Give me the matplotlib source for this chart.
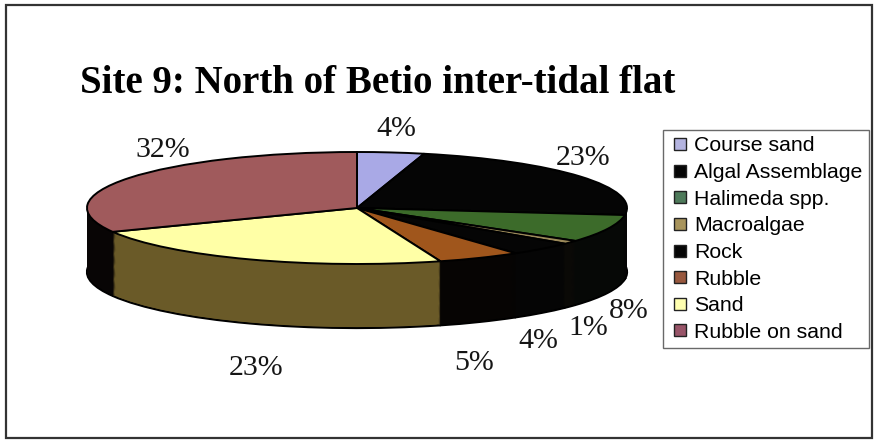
import matplotlib
matplotlib.use("Agg")
import matplotlib.pyplot as plt
from matplotlib.patches import Rectangle
from matplotlib.lines import Line2D

# ---- data ----
categories = ["Course sand", "Algal Assemblage", "Halimeda spp.", "Macroalgae",
              "Rock", "Rubble", "Sand", "Rubble on sand"]
values = [4, 23, 8, 1, 4, 5, 23, 32]
top_colors = ["#A9A9E6", "#050505", "#3C6B2A", "#9C8A5A",
              "#050505", "#A0561C", "#FFFFA6", "#A05A5C"]
side_colors = ["#10101C", "#050505", "#060806", "#0A0906",
               "#050505", "#060403", "#6A5A28", "#080505"]
legend_colors = ["#B4B4E0", "#050505", "#4E7A5A", "#A8945C",
                 "#050505", "#98583E", "#FFFFB0", "#985468"]
title = "Site 9: North of Betio inter-tidal flat"

W, H = 875, 448
fig = plt.figure(figsize=(W / 100, H / 100), dpi=100)
fig.patch.set_facecolor("white")

def fx(px):
    return px / W

def fy(py):
    return 1 - py / H

# pie geometry (pixels)
cx, cy, a, b, depth_px = 357, 208, 270, 56, 64
d = depth_px / b
mx, my = 1.1, 0.1
left = cx - mx * a
top = cy - mx * b
width = 2 * mx * a
height = (2 * mx + d) * b
ax = fig.add_axes([fx(left), fy(top + height), width / W, height / H])

n_layers = 70
for k in range(n_layers):
    off = -d + d * k / (n_layers - 1)
    ax.pie(values, colors=side_colors, radius=1, center=(0, off), startangle=90,
           counterclock=False, normalize=True,
           wedgeprops=dict(linewidth=1.6 if k == 0 else 0,
                           edgecolor="black", antialiased=True))
ax.pie(values, colors=top_colors, radius=1, center=(0, 0), startangle=90,
       counterclock=False, normalize=True,
       wedgeprops=dict(linewidth=1.4, edgecolor="black"))
ax.set_aspect("auto")
ax.set_xlim(-mx, mx)
ax.set_ylim(-1 - d - my, mx)
ax.axis("off")

# title
fig.text(fx(80), fy(93), title, fontsize=28, fontweight="bold",
         family="Liberation Serif", ha="left", va="baseline")

# percentage labels (centre x, baseline y of each slice label, in pixels)
label_pos = [(396, 136), (583, 165), (629, 318), (588, 335),
             (538, 348), (474, 370), (256, 375), (163, 157)]
for v, (px, py) in zip(values, label_pos):
    fig.text(fx(px), fy(py), f"{v}%", fontsize=21.5, family="Liberation Serif",
             ha="center", va="baseline", color="#151515")

# legend
handles = [Line2D([], [], linestyle="None", marker="s", markersize=8.5,
                  markerfacecolor=c, markeredgecolor="#222222", markeredgewidth=1.0)
           for c in legend_colors]
leg = fig.legend(handles, categories, loc="upper left",
                 bbox_to_anchor=(fx(663), fy(130)), frameon=True, fancybox=False,
                 prop=dict(family="Liberation Sans", size=15.3),
                 handlelength=1.0, handletextpad=0.15,
                 labelspacing=0.36, borderpad=0.3, borderaxespad=0)
leg.get_frame().set_edgecolor("#444444")
leg.get_frame().set_linewidth(1.0)

# outer border
fig.add_artist(Rectangle((fx(6), fy(438)), fx(866), (438 - 5) / H,
                         transform=fig.transFigure, fill=False,
                         edgecolor="#333333", linewidth=1.6))

fig.savefig("out.png", dpi=100)
